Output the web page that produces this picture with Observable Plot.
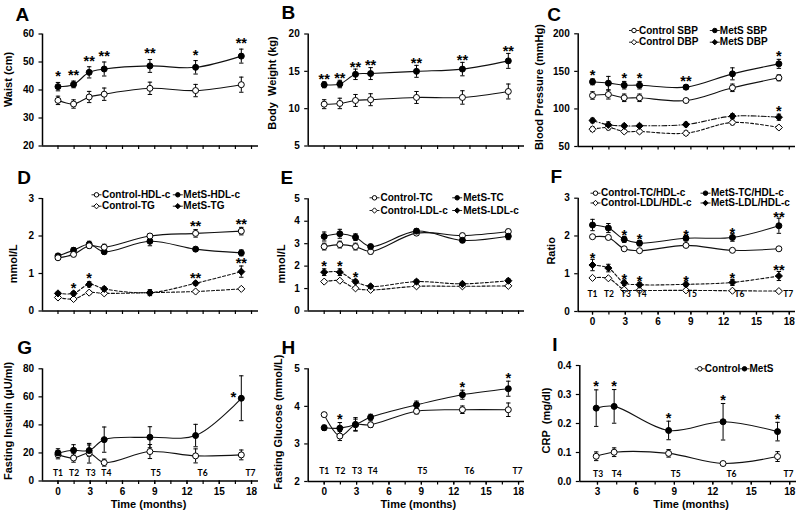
<!DOCTYPE html>
<html>
<head>
<meta charset="utf-8">
<script src="https://cdn.jsdelivr.net/npm/d3@7"></script>
<script src="https://cdn.jsdelivr.net/npm/@observablehq/plot@0.6"></script>
<style>
  body { margin: 0; background: #fff; }
  #chart { position: relative; width: 800px; height: 513px; overflow: hidden; background: #fff; }
  #chart svg { position: absolute; overflow: visible; }
</style>
</head>
<body>
<div id="chart"></div>
<script>
// ---------- data ----------
const months = [0, 1.45, 2.9, 4.3, 8.55, 12.8, 17.05];
const crpMonths = months.slice(2);
const timeLabels = ["T1", "T2", "T3", "T4", "T5", "T6", "T7"];
const timeLabelMonths = [0, 1.5, 3.05, 4.5, 9.1, 13.45, 17.9];
const minorTicks = [0, 1.5, 3, 4.5, 6, 7.5, 9, 10.5, 12, 13.5, 15, 16.5, 18];
const majorTicks = [0, 3, 6, 9, 12, 15, 18];
const crpMinorTicks = [3, 4.5, 6, 7.5, 9, 10.5, 12, 13.5, 15, 16.5, 18];
const crpMajorTicks = [3, 6, 9, 12, 15, 18];

// A Waist
const waistControl = [36.3, 35.0, 37.5, 38.5, 40.6, 39.8, 41.9];
const waistControlErr = [1.5, 1.5, 2.0, 2.2, 2.2, 2.2, 2.7];
const waistMetS = [41.2, 42.0, 46.3, 47.5, 48.6, 48.1, 52.1];
const waistMetSErr = [1.5, 1.2, 2.0, 2.5, 2.3, 2.4, 2.5];
const waistStars = ["*", "**", "**", "**", "**", "*", "**"];
const waistTicks = [20, 30, 40, 50, 60];

// B Body weight
const weightControl = [10.6, 10.7, 11.1, 11.2, 11.5, 11.5, 12.3];
const weightControlErr = [0.6, 0.7, 0.8, 0.8, 0.8, 0.9, 1.0];
const weightMetS = [13.2, 13.3, 14.6, 14.7, 15.0, 15.3, 16.4];
const weightMetSErr = [0.4, 0.5, 0.7, 0.8, 0.8, 0.9, 1.0];
const weightStars = ["**", "**", "**", "**", "**", "**", "**"];
const weightTicks = [5, 10, 15, 20];

// C Blood pressure
const bpNames = ["Control SBP", "MetS SBP", "Control DBP", "MetS DBP"];
const sbpControl = [117.9, 119.2, 114.8, 114.8, 111.2, 128.1, 141.4];
const sbpControlErr = [5, 6, 5, 5, 2, 5, 4];
const sbpMetS = [136.1, 134.3, 131.6, 131.6, 129.0, 146.7, 160.0];
const sbpMetSErr = [4, 9, 5, 5, 3, 8, 6];
const dbpControl = [73.0, 75.3, 70.0, 70.0, 67.7, 82.0, 75.3];
const dbpControlErr = [3, 3, 2, 2, 3, 3, 2];
const dbpMetS = [84.6, 78.8, 77.5, 77.5, 79.3, 90.4, 89.0];
const dbpMetSErr = [3, 4, 2, 2, 3, 3, 4];
const sbpStars = ["*", "", "*", "*", "**", "", "*"];
const dbpStars = ["", "", "", "", "", "", "*"];
const bpTicks = [50, 100, 150, 200];

// D HDL-c / TG
const hdlTgNames = ["Control-HDL-c", "MetS-HDL-c", "Control-TG", "MetS-TG"];
const hdlControl = [1.42, 1.51, 1.74, 1.70, 2.00, 2.07, 2.13];
const hdlControlErr = [0.05, 0.06, 0.06, 0.08, 0.06, 0.10, 0.10];
const hdlMetS = [1.47, 1.62, 1.78, 1.58, 1.86, 1.65, 1.55];
const hdlMetSErr = [0.05, 0.07, 0.08, 0.06, 0.12, 0.05, 0.08];
const tgControl = [0.36, 0.32, 0.49, 0.47, 0.49, 0.52, 0.59];
const tgControlErr = [0.03, 0.04, 0.04, 0.03, 0.05, 0.03, 0.04];
const tgMetS = [0.47, 0.47, 0.71, 0.59, 0.49, 0.74, 1.05];
const tgMetSErr = [0.04, 0.05, 0.07, 0.05, 0.08, 0.05, 0.15];
const hdlStars = ["", "", "", "", "", "**", "**"];
const tgStars = ["", "*", "*", "", "", "**", "**"];
const hdlTgTicks = [0, 1, 2, 3];

// E TC / LDL-c
const tcLdlNames = ["Control-TC", "MetS-TC", "Control-LDL-c", "MetS-LDL-c"];
const tcControl = [2.87, 2.96, 2.87, 2.65, 3.47, 3.36, 3.54];
const tcControlErr = [0.15, 0.15, 0.15, 0.10, 0.10, 0.10, 0.10];
const tcMetS = [3.32, 3.44, 3.29, 2.87, 3.56, 3.15, 3.33];
const tcMetSErr = [0.20, 0.20, 0.15, 0.10, 0.10, 0.10, 0.15];
const ldlControl = [1.31, 1.35, 1.01, 0.94, 1.10, 1.10, 1.12];
const ldlControlErr = [0.05, 0.05, 0.04, 0.04, 0.04, 0.04, 0.04];
const ldlMetS = [1.73, 1.73, 1.31, 1.10, 1.31, 1.21, 1.35];
const ldlMetSErr = [0.15, 0.15, 0.08, 0.05, 0.08, 0.06, 0.08];
const ldlStars = ["*", "*", "*", "", "", "", ""];
const tcLdlTicks = [0, 1, 2, 3, 4, 5];

// F Ratios
const ratioNames = ["Control-TC/HDL-c", "MetS-TC/HDL-c", "Control-LDL/HDL-c", "MetS-LDL/HDL-c"];
const tcHdlControl = [1.98, 1.96, 1.66, 1.61, 1.75, 1.62, 1.66];
const tcHdlControlErr = [0.04, 0.04, 0.03, 0.03, 0.03, 0.03, 0.03];
const tcHdlMetS = [2.29, 2.21, 1.91, 1.81, 1.94, 1.96, 2.27];
const tcHdlMetSErr = [0.15, 0.12, 0.08, 0.07, 0.07, 0.10, 0.20];
const ldlHdlControl = [0.89, 0.88, 0.58, 0.56, 0.56, 0.55, 0.54];
const ldlHdlControlErr = [0.03, 0.03, 0.03, 0.03, 0.03, 0.03, 0.03];
const ldlHdlMetS = [1.23, 1.15, 0.76, 0.71, 0.72, 0.77, 0.94];
const ldlHdlMetSErr = [0.15, 0.10, 0.07, 0.06, 0.06, 0.08, 0.12];
const tcHdlStars = ["", "", "*", "*", "*", "*", "**"];
const ldlHdlStars = ["*", "", "*", "*", "*", "*", "**"];
const ratioTicks = [0, 1, 2, 3];

// G Insulin
const insulinControl = [18.8, 16.4, 19.8, 13.1, 21.0, 17.9, 18.6];
const insulinControlErr = [3, 3, 7, 2.5, 5, 5, 3.5];
const insulinMetS = [20.0, 21.9, 21.7, 29.5, 31.2, 32.4, 59.0];
const insulinMetSErr = [3, 4, 4, 9, 7.5, 8, 16];
const insulinStars = ["", "", "", "", "", "", "*"];
const insulinTicks = [0, 20, 40, 60, 80];

// H Glucose
const glucoseControl = [3.78, 3.21, 3.51, 3.51, 3.87, 3.91, 3.91];
const glucoseControlErr = [0.05, 0.12, 0.15, 0.07, 0.07, 0.10, 0.18];
const glucoseMetS = [3.43, 3.42, 3.52, 3.71, 4.04, 4.31, 4.47];
const glucoseMetSErr = [0.07, 0.15, 0.18, 0.08, 0.10, 0.12, 0.20];
const glucoseStars = ["", "*", "", "", "", "*", "*"];
const glucoseTicks = [2, 3, 4, 5];

// I CRP
const crpNames = ["Control", "MetS"];
const crpControl = [0.087, 0.101, 0.097, 0.062, 0.086];
const crpControlErr = [0.015, 0.015, 0.013, 0.007, 0.017];
const crpMetS = [0.253, 0.259, 0.176, 0.206, 0.172];
const crpMetSErr = [0.063, 0.058, 0.032, 0.063, 0.032];
const crpStars = ["*", "*", "*", "*", "*"];
const crpTicks = [0, 0.1, 0.2, 0.3, 0.4];

// ---------- drawing ----------
const FONT = "'Liberation Sans', Arial, Helvetica, sans-serif";
const chart = document.getElementById("chart");

const capSym = {draw(ctx) { ctx.moveTo(-2.2, 0); ctx.lineTo(2.2, 0); }};
const legLine = {draw(ctx) { ctx.moveTo(-5, 0); ctx.lineTo(5, 0); }};
const KIND = {
  oc: {symbol: "circle", fill: "white", r: 3},
  fc: {symbol: "circle", fill: "black", r: 3},
  od: {symbol: "diamond2", fill: "white", r: 3.2},
  fd: {symbol: "diamond2", fill: "black", r: 3.2}
};

function rows(t, v, e, stars) {
  return t.map((m, i) => ({t: m, v: v[i], e: e[i], star: stars ? stars[i] : ""}));
}

function panel(cfg) {
  const marks = [];
  const [x0] = cfg.xDomain, [y0] = cfg.yDomain;
  marks.push(Plot.axisX({ticks: cfg.xMinor, tickSize: 3.5, strokeWidth: 1.2, tickFormat: () => "", label: null}));
  if (cfg.xMajor) marks.push(Plot.axisX({ticks: cfg.xMajor, tickSize: 3.5, tickPadding: 3, strokeWidth: 1.2,
    tickFormat: d => String(d), fontSize: 10, fontWeight: "bold", label: null}));
  marks.push(Plot.axisY({ticks: cfg.yTicks, tickSize: 3.5, tickPadding: 5, strokeWidth: 1.2,
    tickFormat: cfg.yFormat || (d => String(d)), fontSize: 10, fontWeight: "bold", label: null}));
  marks.push(Plot.ruleY([y0], {stroke: "black", strokeWidth: 1.5}));
  marks.push(Plot.ruleX([x0], {stroke: "black", strokeWidth: 1.5}));

  const S = cfg.series.map(s => ({...s, data: rows(s.t, s.v, s.e, s.stars)}));
  for (const s of S) {
    marks.push(Plot.line(s.data, {x: "t", y: "v", curve: "catmull-rom", stroke: "#111",
      strokeWidth: 1.1, strokeDasharray: s.dash || null}));
  }
  for (const s of S) {
    marks.push(Plot.ruleX(s.data, {x: "t", y1: d => d.v - d.e, y2: d => d.v + d.e, stroke: "black", strokeWidth: 1}));
    marks.push(Plot.dot(s.data, {x: "t", y: d => d.v + d.e, symbol: capSym, fill: "none", stroke: "black", strokeWidth: 1}));
    marks.push(Plot.dot(s.data, {x: "t", y: d => d.v - d.e, symbol: capSym, fill: "none", stroke: "black", strokeWidth: 1}));
  }
  for (const s of S) {
    const k = KIND[s.kind];
    marks.push(Plot.dot(s.data, {x: "t", y: "v", symbol: k.symbol, r: k.r, fill: k.fill, stroke: "black", strokeWidth: 1}));
  }
  const starDy = cfg.starDy != null ? cfg.starDy : 1.5;
  for (const s of S) {
    const starred = s.data.filter(d => d.star);
    if (!starred.length) continue;
    if (s.starLeft) {
      marks.push(Plot.text(starred, {x: "t", y: "v", text: "star", dx: -8, dy: 4, lineAnchor: "bottom",
        fontSize: 15, fontWeight: "bold", fontFamily: FONT}));
    } else {
      marks.push(Plot.text(starred, {x: "t", y: d => d.v + d.e, text: "star", dy: starDy, lineAnchor: "bottom",
        fontSize: 14.5, fontWeight: "bold", fontFamily: FONT}));
    }
  }
  if (cfg.tLabelDy != null) {
    const labs = cfg.tLabels;
    marks.push(Plot.text(labs, {x: (d, i) => cfg.tLabelX[i], text: d => d, frameAnchor: "bottom", dy: cfg.tLabelDy,
      lineAnchor: "middle", fontSize: 8.5, fontWeight: "bold", fontFamily: "Lato, 'Open Sans', sans-serif"}));
  }
  if (cfg.timeTitle) {
    marks.push(Plot.text(["Time (months)"], {frameAnchor: "bottom", dy: 23, dx: cfg.timeDx || 0, lineAnchor: "middle",
      fontSize: 11, fontWeight: "bold", fontFamily: FONT}));
  }
  marks.push(Plot.text([cfg.yLabel], {frameAnchor: "left", rotate: -90, dx: cfg.yLabelDx, dy: cfg.yLabelDy,
    textAnchor: "middle", lineAnchor: "middle", fontSize: 11, fontWeight: "bold", fontFamily: FONT}));
  marks.push(Plot.text([cfg.letter], {frameAnchor: "top-left", dx: cfg.letterDx, dy: cfg.letterDy,
    textAnchor: "start", lineAnchor: "bottom", fontSize: 19, fontWeight: "bold", fontFamily: FONT}));

  if (cfg.legend) {
    const L = cfg.legend;
    L.names.forEach((name, i) => {
      const col = i % 2, row = Math.floor(i / 2);
      const mx = L.cols[col], my = L.rows[row];
      const k = KIND[L.kinds[i]];
      marks.push(Plot.dot([name], {frameAnchor: "top-left", dx: mx, dy: my, symbol: legLine, fill: "none", stroke: "#222", strokeWidth: 1}));
      marks.push(Plot.dot([name], {frameAnchor: "top-left", dx: mx, dy: my, symbol: k.symbol, r: k.r * 0.75,
        fill: k.fill, stroke: "black", strokeWidth: 1}));
      marks.push(Plot.text([name], {frameAnchor: "top-left", dx: mx + L.gap, dy: my, text: d => d, textAnchor: "start",
        lineAnchor: "middle", fontSize: 10, fontWeight: "bold", fontFamily: FONT}));
    });
  }

  const svg = Plot.plot({
    width: cfg.width, height: cfg.height,
    marginLeft: cfg.ml, marginRight: cfg.mr, marginTop: cfg.mt, marginBottom: cfg.mb,
    x: {domain: cfg.xDomain},
    y: {domain: cfg.yDomain},
    style: {fontFamily: FONT, fontSize: "10px", fontWeight: "bold", color: "black", background: "transparent", overflow: "visible"},
    marks
  });
  svg.style.left = cfg.left + "px";
  svg.style.top = cfg.top + "px";
  chart.appendChild(svg);
}

const col1 = {left: 0, width: 265, ml: 42, mr: 7, xDomain: [-1.44, 18.65]};
const col2 = {left: 265, width: 265, ml: 42.7, mr: 6, xDomain: [-1.48, 18.55]};
const col3 = {left: 530, width: 270, ml: 47.7, mr: 5, xDomain: [-1.31, 18.57]};
const row1 = {top: 0, height: 165, mt: 33.5, mb: 19.5};
const row2 = {top: 165, height: 170, mt: 33, mb: 24.5};
const row3 = {top: 335, height: 178, mt: 33.3, mb: 32.5};

// A
panel({...col1, ...row1, yDomain: [20, 60], yTicks: waistTicks, xMinor: minorTicks, starDy: -1,
  letter: "A", letterDx: -27, letterDy: -13.5, yLabel: "Waist (cm)", yLabelDx: -34, yLabelDy: -10.5,
  series: [
    {t: months, v: waistControl, e: waistControlErr, kind: "oc"},
    {t: months, v: waistMetS, e: waistMetSErr, kind: "fc", stars: waistStars}
  ]});
// B
panel({...col2, ...row1, yDomain: [5, 20], yTicks: weightTicks, xMinor: minorTicks, starDy: 2.5,
  letter: "B", letterDx: -26.7, letterDy: -15, yLabel: "Body\u00a0 Weight (kg)", yLabelDx: -35.7, yLabelDy: -7,
  series: [
    {t: months, v: weightControl, e: weightControlErr, kind: "oc"},
    {t: months, v: weightMetS, e: weightMetSErr, kind: "fc", stars: weightStars}
  ]});
// C
panel({...col3, ...row1, mt: 33.3, mb: 19, yDomain: [50, 200], yTicks: bpTicks, xMinor: minorTicks,
  letter: "C", letterDx: -31, letterDy: -13.3, yLabel: "Blood Pressure (mmHg)", yLabelDx: -38.7, yLabelDy: -3,
  series: [
    {t: months, v: dbpControl, e: dbpControlErr, kind: "od", dash: "3,2"},
    {t: months, v: dbpMetS, e: dbpMetSErr, kind: "fd", dash: "5,2,1,2", stars: dbpStars},
    {t: months, v: sbpControl, e: sbpControlErr, kind: "oc"},
    {t: months, v: sbpMetS, e: sbpMetSErr, kind: "fc", stars: sbpStars}
  ],
  legend: {names: bpNames, kinds: ["oc", "fc", "od", "fd"], cols: [55.8, 136.6], rows: [-3.3, 8.4], gap: 5}});
// D
panel({...col1, ...row2, yDomain: [0, 3], yTicks: hdlTgTicks, xMinor: minorTicks,
  letter: "D", letterDx: -25.3, letterDy: -14.7, yLabel: "mmol/L", yLabelDx: -29.5, yLabelDy: 9,
  series: [
    {t: months, v: tgControl, e: tgControlErr, kind: "od", dash: "3,2"},
    {t: months, v: tgMetS, e: tgMetSErr, kind: "fd", dash: "3,2", stars: tgStars},
    {t: months, v: hdlMetS, e: hdlMetSErr, kind: "fc"},
    {t: months, v: hdlControl, e: hdlControlErr, kind: "oc", stars: hdlStars}
  ],
  legend: {names: hdlTgNames, kinds: ["oc", "fc", "od", "fd"], cols: [54, 135.3], rows: [-3.7, 7.7], gap: 5.5}});
// E
panel({...col2, ...row2, mt: 33.3, yDomain: [0, 5], yTicks: tcLdlTicks, xMinor: minorTicks, starDy: 2.5,
  letter: "E", letterDx: -27.7, letterDy: -14.7, yLabel: "mmol/L", yLabelDx: -26.7, yLabelDy: 9,
  series: [
    {t: months, v: ldlControl, e: ldlControlErr, kind: "od", dash: "3,2"},
    {t: months, v: ldlMetS, e: ldlMetSErr, kind: "fd", dash: "3,2", stars: ldlStars},
    {t: months, v: tcControl, e: tcControlErr, kind: "oc"},
    {t: months, v: tcMetS, e: tcMetSErr, kind: "fc"}
  ],
  legend: {names: tcLdlNames, kinds: ["oc", "fc", "od", "fd"], cols: [66.3, 149], rows: [-1, 11.7], gap: 6}});
// F
panel({...col3, ...row2, mt: 32.7, mb: 24, yDomain: [0, 3], yTicks: ratioTicks, xMinor: minorTicks, xMajor: majorTicks,
  starDy: 4,
  letter: "F", letterDx: -27.7, letterDy: -15.4, yLabel: "Ratio", yLabelDx: -26.7, yLabelDy: -4,
  tLabels: timeLabels, tLabelX: timeLabelMonths, tLabelDy: -17,
  series: [
    {t: months, v: ldlHdlControl, e: ldlHdlControlErr, kind: "od", dash: "3,2"},
    {t: months, v: ldlHdlMetS, e: ldlHdlMetSErr, kind: "fd", dash: "3,2", stars: ldlHdlStars},
    {t: months, v: tcHdlControl, e: tcHdlControlErr, kind: "oc"},
    {t: months, v: tcHdlMetS, e: tcHdlMetSErr, kind: "fc", stars: tcHdlStars}
  ],
  legend: {names: ratioNames, kinds: ["oc", "fc", "od", "fd"], cols: [17.3, 127.3], rows: [-5, 4.8], gap: 5.5}});
// G
panel({...col1, ...row3, yDomain: [0, 80], yTicks: insulinTicks, xMinor: minorTicks, xMajor: majorTicks,
  letter: "G", letterDx: -25.3, letterDy: -15, yLabel: "Fasting Insulin (\u00b5U/ml)", yLabelDx: -34.5, yLabelDy: -4,
  tLabels: timeLabels, tLabelX: timeLabelMonths, tLabelDy: -7.6, timeTitle: true, timeDx: -2,
  series: [
    {t: months, v: insulinControl, e: insulinControlErr, kind: "oc"},
    {t: months, v: insulinMetS, e: insulinMetSErr, kind: "fc", stars: insulinStars, starLeft: true}
  ]});
// H
panel({...col2, ...row3, mb: 32, yDomain: [2, 5], yTicks: glucoseTicks, xMinor: minorTicks, xMajor: majorTicks,
  letter: "H", letterDx: -26.7, letterDy: -15, yLabel: "Fasting Glucose (mmol/L)", yLabelDx: -30.2, yLabelDy: -3,
  tLabels: timeLabels, tLabelX: timeLabelMonths, tLabelDy: -10, timeTitle: true, timeDx: 2,
  series: [
    {t: months, v: glucoseControl, e: glucoseControlErr, kind: "oc"},
    {t: months, v: glucoseMetS, e: glucoseMetSErr, kind: "fc", stars: glucoseStars}
  ]});
// I
panel({left: 530, width: 270, ml: 49.3, mr: 4, xDomain: [1.62, 18.53], top: 335, height: 178, mt: 30, mb: 32,
  yDomain: [0, 0.4], yTicks: crpTicks, yFormat: d3.format(".1f"), xMinor: crpMinorTicks, xMajor: crpMajorTicks,
  letter: "I", letterDx: -27.6, letterDy: -15, yLabel: "CRP\u00a0 (mg/dl)", yLabelDx: -33.3, yLabelDy: -3,
  tLabels: timeLabels.slice(2), tLabelX: timeLabelMonths.slice(2), tLabelDy: -7, timeTitle: true, timeDx: 3,
  series: [
    {t: crpMonths, v: crpControl, e: crpControlErr, kind: "oc"},
    {t: crpMonths, v: crpMetS, e: crpMetSErr, kind: "fc", stars: crpStars}
  ],
  legend: {names: crpNames, kinds: ["oc", "fc"], cols: [120, 164.7], rows: [3.3], gap: 5}});
</script>
</body>
</html>
